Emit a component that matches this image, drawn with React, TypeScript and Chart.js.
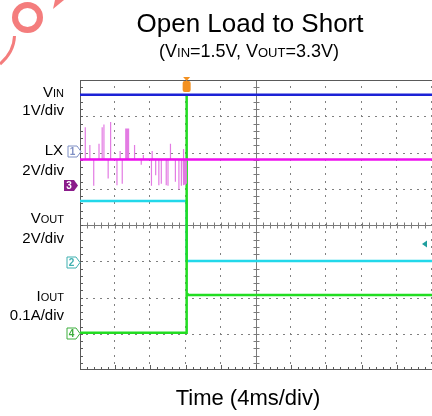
import React, { useEffect, useRef } from "react";
import { Chart, registerables } from "chart.js";
Chart.register(...registerables);

// Time axis in divisions (4 ms/div), vertical axis in screen divisions (0 = bottom, 8 = top)
const VIN_X = [0, 10];
const VIN_Y = [7.59, 7.59];
const LX_X = [0, 10];
const LX_Y = [5.81, 5.81];
const VOUT_X = [0, 3.03, 3.03, 10];
const VOUT_Y = [4.66, 4.66, 3.01, 3.01];
const IOUT_X = [0, 3.03, 3.03, 3.03, 3.08, 10];
const IOUT_Y = [1.03, 1.03, 7.6, 2.12, 2.07, 2.07];
// LX switching spikes before the short (time, spike tip)
const SPIKE_X = [0.15, 0.28, 0.39, 0.54, 0.63, 0.68, 0.8, 0.87, 1.05, 1.14, 1.2, 1.3, 1.33, 1.35, 1.38, 1.55, 1.74, 1.8, 2.03, 2.05, 2.15, 2.24, 2.31, 2.45, 2.5, 2.57, 2.71, 2.81, 2.88, 2.93, 2.95, 2.97, 2.99, 3.0, 3.02];
const SPIKE_TIP = [6.7, 6.21, 5.08, 6.24, 6.7, 6.77, 5.28, 6.84, 5.1, 6.04, 5.14, 6.66, 6.66, 6.66, 6.66, 6.21, 5.66, 5.93, 5.08, 6.04, 5.37, 5.1, 5.14, 5.1, 5.08, 6.24, 5.19, 4.98, 5.08, 6.1, 5.1, 5.12, 5.1, 5.14, 5.14];
const TRIGGER_X = 3.03;
// Channel ground markers: label, level
const CH_LABELS = ["1", "2", "3", "4"];
const CH_LEVELS = [6.04, 2.99, 5.1, 1.02];

const FONT = '"Liberation Sans", Arial, sans-serif';

type Part = [string, number];

function drawParts(ctx: CanvasRenderingContext2D, parts: Part[], x: number, y: number, align: "center" | "right") {
  const widths = parts.map(([t, s]) => {
    ctx.font = `${s}px ${FONT}`;
    return ctx.measureText(t).width;
  });
  const total = widths.reduce((a, b) => a + b, 0);
  let cx = align === "center" ? x - total / 2 : x - total;
  ctx.textAlign = "left";
  ctx.textBaseline = "alphabetic";
  parts.forEach(([t, s], i) => {
    ctx.font = `${s}px ${FONT}`;
    ctx.fillText(t, cx, y);
    cx += widths[i];
  });
}

function drawMarker(ctx: CanvasRenderingContext2D, label: string, xRight: number, yc: number, filled: boolean, color: string) {
  const xl = filled ? xRight - 14 : xRight - 13;
  const xa = xRight - 4;
  ctx.beginPath();
  ctx.moveTo(xl, yc - 5.5);
  ctx.lineTo(xa, yc - 5.5);
  ctx.lineTo(xRight, yc);
  ctx.lineTo(xa, yc + 5.5);
  ctx.lineTo(xl, yc + 5.5);
  ctx.closePath();
  if (filled) {
    ctx.fillStyle = color;
    ctx.fill();
  } else {
    ctx.fillStyle = "#fff";
    ctx.fill();
    ctx.strokeStyle = color;
    ctx.lineWidth = 1;
    ctx.stroke();
  }
  ctx.fillStyle = filled ? "#fff" : color;
  ctx.font = `bold 10px ${FONT}`;
  ctx.textAlign = "center";
  ctx.textBaseline = "middle";
  ctx.fillText(label, (xl + xa) / 2, yc + 0.5);
}

export default function App() {
  const ref = useRef<HTMLCanvasElement>(null);
  useEffect(() => {
    const canvas = ref.current!;
    const pts = (xs: number[], ys: number[]) => xs.map((x, i) => ({ x, y: ys[i] }));
    const spikes: { x: number; y: number }[] = [];
    SPIKE_X.forEach((x, i) => {
      spikes.push({ x, y: LX_Y[0] }, { x, y: SPIKE_TIP[i] }, { x, y: LX_Y[0] });
    });

    const scope = {
      id: "scope",
      beforeDraw(chart: any) {
        const ctx = chart.ctx as CanvasRenderingContext2D;
        ctx.save();
        // watermark fragment
        ctx.strokeStyle = "rgba(240,70,70,0.7)";
        ctx.lineWidth = 6;
        ctx.beginPath();
        ctx.ellipse(27.5, 17.5, 12.5, 12.5, 0, 0, Math.PI * 2);
        ctx.stroke();
        ctx.lineWidth = 3;
        ctx.beginPath();
        ctx.moveTo(14.5, 36);
        ctx.quadraticCurveTo(14, 52, 0, 64);
        ctx.stroke();
        ctx.fillStyle = "rgba(240,70,70,0.7)";
        ctx.beginPath();
        ctx.moveTo(53, 9);
        ctx.lineTo(64, 0);
        ctx.lineTo(55, 0);
        ctx.closePath();
        ctx.fill();
        ctx.restore();
      },
      beforeDatasetsDraw(chart: any) {
        const ctx = chart.ctx as CanvasRenderingContext2D;
        const xs = chart.scales.x;
        const ys = chart.scales.y;
        const { left, right, top, bottom } = chart.chartArea;
        ctx.save();
        // dotted grid
        ctx.fillStyle = "#808080";
        for (let i = 1; i <= 10; i++) {
          if (i === 5) continue;
          const px = Math.round(xs.getPixelForValue(i)) - 1;
          for (let m = 1; m < 40; m++) {
            const py = Math.round(ys.getPixelForValue(m / 5));
            ctx.fillRect(px, py - 1, 1, 2);
          }
        }
        for (let j = 1; j <= 7; j++) {
          if (j === 4) continue;
          const py = Math.round(ys.getPixelForValue(j));
          for (let m = 1; m < 50; m++) {
            const px = Math.round(xs.getPixelForValue(m / 5));
            ctx.fillRect(px - 1, py, 2, 1);
          }
        }
        // center cross with ticks
        ctx.strokeStyle = "#7a7a7a";
        ctx.lineWidth = 1;
        const cy = Math.round(ys.getPixelForValue(4)) + 0.5;
        const cx = Math.round(xs.getPixelForValue(5)) + 0.5;
        ctx.beginPath();
        ctx.moveTo(left, cy);
        ctx.lineTo(right, cy);
        ctx.moveTo(cx, top);
        ctx.lineTo(cx, bottom);
        for (let m = 1; m < 50; m++) {
          const px = Math.round(xs.getPixelForValue(m / 5)) + 0.5;
          ctx.moveTo(px, cy - 3);
          ctx.lineTo(px, cy + 3);
        }
        for (let m = 1; m < 40; m++) {
          const py = Math.round(ys.getPixelForValue(m / 5)) + 0.5;
          ctx.moveTo(cx - 3, py);
          ctx.lineTo(cx + 3, py);
        }
        ctx.stroke();
        // borders
        ctx.strokeStyle = "#5a5a5a";
        ctx.beginPath();
        ctx.moveTo(left, top + 0.5);
        ctx.lineTo(right, top + 0.5);
        ctx.moveTo(left + 0.5, top);
        ctx.lineTo(left + 0.5, bottom);
        ctx.moveTo(left, bottom - 0.5);
        ctx.lineTo(right, bottom - 0.5);
        for (let m = 1; m < 40; m++) {
          const py = Math.round(ys.getPixelForValue(m / 5)) + 0.5;
          ctx.moveTo(left, py);
          ctx.lineTo(left + 3, py);
        }
        for (let m = 1; m < 50; m++) {
          const px = Math.round(xs.getPixelForValue(m / 5)) + 0.5;
          ctx.moveTo(px, bottom);
          ctx.lineTo(px, bottom - (m % 5 === 0 ? 5 : 3));
        }
        ctx.stroke();
        ctx.restore();
      },
      afterDatasetsDraw(chart: any) {
        const ctx = chart.ctx as CanvasRenderingContext2D;
        const xs = chart.scales.x;
        const ys = chart.scales.y;
        ctx.save();
        // trigger marker
        const tx = xs.getPixelForValue(TRIGGER_X);
        ctx.fillStyle = "#f39020";
        ctx.beginPath();
        ctx.moveTo(tx - 3.5, 77);
        ctx.lineTo(tx + 3.5, 77);
        ctx.lineTo(tx, 81);
        ctx.closePath();
        ctx.fill();
        ctx.beginPath();
        (ctx as any).roundRect(tx - 4, 81, 8, 11, 2);
        ctx.fill();
        // right-side offset arrow
        ctx.fillStyle = "#1f9e9e";
        ctx.beginPath();
        ctx.moveTo(422, 244);
        ctx.lineTo(427, 240.5);
        ctx.lineTo(427, 247.5);
        ctx.closePath();
        ctx.fill();
        // channel markers
        const styles: [number, boolean, string][] = [
          [81, false, "#7f8fc4"],
          [80, false, "#3fb0b0"],
          [78, true, "#8b1c8b"],
          [80, false, "#3cae3c"],
        ];
        CH_LABELS.forEach((lab, i) => {
          const [xr, filled, col] = styles[i];
          drawMarker(ctx, lab, xr, Math.round(ys.getPixelForValue(CH_LEVELS[i])) + 0.5, filled, col);
        });
        // texts
        ctx.fillStyle = "#000";
        drawParts(ctx, [["Open Load to Short", 26]], 250, 32, "center");
        drawParts(ctx, [["(V", 18], ["IN", 13], ["=1.5V, V", 18], ["OUT", 13], ["=3.3V)", 18]], 249, 57, "center");
        drawParts(ctx, [["Time (4ms/div)", 22]], 248, 405, "center");
        drawParts(ctx, [["V", 15], ["IN", 11]], 64, 97, "right");
        drawParts(ctx, [["1V/div", 15]], 64, 115, "right");
        drawParts(ctx, [["LX", 15]], 63, 155, "right");
        drawParts(ctx, [["2V/div", 15]], 64, 175, "right");
        drawParts(ctx, [["V", 15], ["OUT", 11]], 64, 223, "right");
        drawParts(ctx, [["2V/div", 15]], 64, 243, "right");
        drawParts(ctx, [["I", 15], ["OUT", 11]], 64, 301, "right");
        drawParts(ctx, [["0.1A/div", 15]], 64, 320, "right");
        ctx.restore();
      },
    };

    const chart = new Chart(canvas, {
      type: "line",
      data: {
        datasets: [
          { label: "LX", data: pts(LX_X, LX_Y), borderColor: "#ee10ee", borderWidth: 2.5 },
          { label: "LX spikes", data: spikes, borderColor: "#e37be3", borderWidth: 1.2 },
          { label: "VIN", data: pts(VIN_X, VIN_Y), borderColor: "#1c22d6", borderWidth: 2.5 },
          { label: "IOUT", data: pts(IOUT_X, IOUT_Y), borderColor: "#22dd22", borderWidth: 2.5 },
          { label: "VOUT", data: pts(VOUT_X, VOUT_Y), borderColor: "#22d8ea", borderWidth: 2.5 },
        ],
      },
      options: {
        animation: false,
        responsive: false,
        events: [],
        layout: { padding: { left: 80, top: 80, right: 0, bottom: 46 } },
        scales: {
          x: { type: "linear", min: 0, max: 10, display: false },
          y: { type: "linear", min: 0, max: 8, display: false },
        },
        elements: { point: { radius: 0 }, line: { tension: 0 } },
        plugins: { legend: { display: false }, tooltip: { enabled: false }, title: { display: false } },
      },
      plugins: [scope],
    } as any);
    return () => chart.destroy();
  }, []);
  return (
    <div style={{ position: "absolute", left: 0, top: 0, width: 432, height: 416, background: "#fff" }}>
      <canvas ref={ref} width={432} height={416} style={{ display: "block" }} />
    </div>
  );
}
